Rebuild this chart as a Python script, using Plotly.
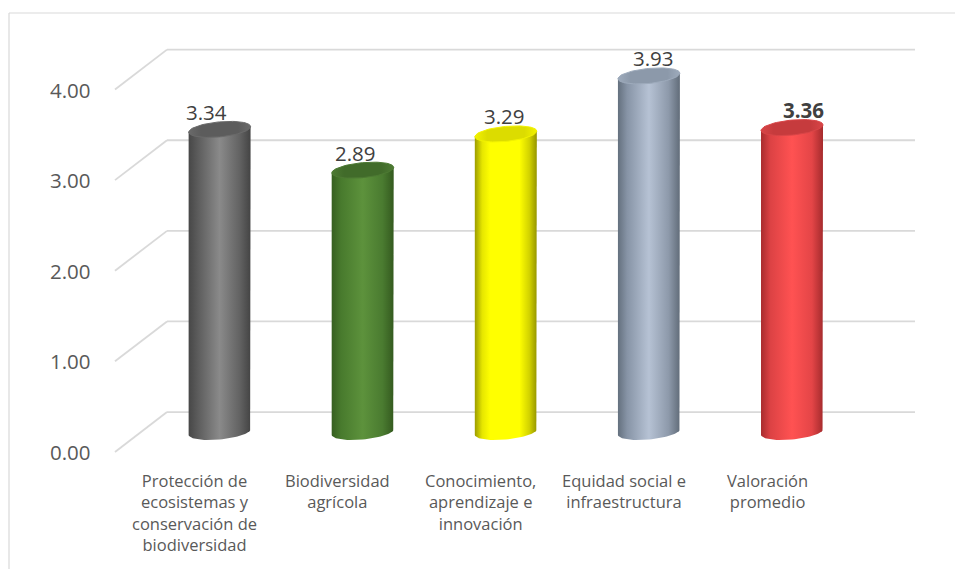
import numpy as np
import plotly.graph_objects as go

# ---------------- data ----------------
categories = [
    "Protección de<br>ecosistemas y<br>conservación de<br>biodiversidad",
    "Biodiversidad<br>agrícola",
    "Conocimiento,<br>aprendizaje e<br>innovación",
    "Equidad social e<br>infraestructura",
    "Valoración<br>promedio",
]
values = [3.34, 2.89, 3.29, 3.93, 3.36]
value_labels = ["3.34", "2.89", "3.29", "3.93", "3.36"]
tick_values = [0, 1, 2, 3, 4]
tick_labels = ["0.00", "1.00", "2.00", "3.00", "4.00"]

# ---------------- styles ----------------
W, H = 955, 569
X_RANGE = [-1.5346, 5.139]
Y_RANGE = [-1.512, 4.768]
PX_X = W / (X_RANGE[1] - X_RANGE[0])   # pixels per x unit
PX_Y = H / (Y_RANGE[1] - Y_RANGE[0])   # pixels per y unit

def xd(px):  # pixel column -> x data
    return X_RANGE[0] + px / PX_X

DEPTH = 0.22          # perspective offset of back/front walls (y units)
BACK_X0, BACK_X1, FRONT_X = xd(167), xd(915), xd(115)
GRID_COLOR = "#d9d9d9"

BAR_A = 31.0          # half width of cylinder (px)
BAR_B = 7.5           # ellipse half height (px)
SHEAR = 0.09          # ellipse tilt

body_scales = [
    [[0, "#474747"], [0.15, "#5c5c5c"], [0.5, "#8a8a8a"], [0.82, "#636363"], [1, "#444444"]],
    [[0, "#365f20"], [0.15, "#487a2d"], [0.5, "#5d923c"], [0.82, "#4a7b30"], [1, "#345a1f"]],
    [[0, "#9c9c00"], [0.12, "#e6e600"], [0.25, "#ffff00"], [0.72, "#ffff00"], [0.88, "#d2d200"], [1, "#959500"]],
    [[0, "#64707e"], [0.15, "#8794a6"], [0.5, "#b6c2d4"], [0.82, "#8d99aa"], [1, "#616c79"]],
    [[0, "#a82c2e"], [0.15, "#dc4244"], [0.5, "#ff5252"], [0.82, "#e44547"], [1, "#a52b2d"]],
]
top_colors = ["#5c5c5c", "#416b2a", "#dcdc00", "#8c99aa", "#c63b3d"]
top_rims = ["#6a6a6a", "#4d7a33", "#f2f200", "#9eabbc", "#d84547"]

FONT = "Open Sans"
fig = go.Figure()

t_full = np.linspace(0, 2 * np.pi, 73)
t_low = np.linspace(0, -np.pi, 37)

for i, (v, cs, tc, rim) in enumerate(zip(values, body_scales, top_colors, top_rims)):
    cx = i
    ax = BAR_A / PX_X
    by = BAR_B / PX_Y
    sh = SHEAR * BAR_A / PX_Y
    # body
    bx = [cx - ax, cx - ax, cx + ax, cx + ax] + list(cx + ax * np.cos(t_low))
    byy = [-sh, v - sh, v + sh, sh] + list(by * np.sin(t_low) + sh * np.cos(t_low))
    fig.add_trace(go.Scatter(
        x=bx, y=byy, mode="lines", fill="toself", line=dict(width=0),
        fillgradient=dict(type="horizontal", colorscale=cs),
        hoverinfo="skip", showlegend=False))
    # top ellipse
    ex = cx + ax * np.cos(t_full)
    ey = v + by * np.sin(t_full) + sh * np.cos(t_full)
    fig.add_trace(go.Scatter(
        x=ex, y=ey, mode="lines", fill="toself", line=dict(width=1, color=rim),
        fillgradient=dict(type="horizontal",
                          colorscale=[[0, rim], [0.2, tc], [0.8, tc], [1, rim]]),
        hoverinfo="skip", showlegend=False))

shapes = []
for tv in tick_values:
    shapes.append(dict(type="line", xref="x", yref="y", x0=FRONT_X, y0=tv - DEPTH,
                       x1=BACK_X0, y1=tv + DEPTH, layer="below",
                       line=dict(color=GRID_COLOR, width=1.8)))
    shapes.append(dict(type="line", xref="x", yref="y", x0=BACK_X0, y0=tv + DEPTH,
                       x1=BACK_X1, y1=tv + DEPTH, layer="below",
                       line=dict(color=GRID_COLOR, width=1.8)))
# chart frame
shapes.append(dict(type="line", xref="paper", yref="paper", x0=9 / W, y0=1 - 13 / H,
                   x1=1.0, y1=1 - 13 / H, line=dict(color="#d9d9d9", width=1.2)))
shapes.append(dict(type="line", xref="paper", yref="paper", x0=9 / W, y0=1 - 13 / H,
                   x1=9 / W, y1=0, line=dict(color="#d9d9d9", width=1.2)))

annotations = []
for tv, tl in zip(tick_values, tick_labels):
    annotations.append(dict(x=xd(93), y=tv - DEPTH, xref="x", yref="y", text=tl,
                            showarrow=False, xanchor="right", yanchor="middle",
                            font=dict(family=FONT, size=20.5, color="#595959")))
for i, (v, lab) in enumerate(zip(values, value_labels)):
    bold = i == len(values) - 1
    annotations.append(dict(x=i, y=v, xref="x", yref="y",
                            text=f"<b>{lab}</b>" if bold else lab,
                            showarrow=False, xanchor="center", yanchor="middle",
                            xshift=(i - 2) * 6 - 1, yshift=17.5,
                            font=dict(family=FONT, size=20.5, color="#404040")))
for i, c in enumerate(categories):
    annotations.append(dict(x=i, y=-35 / PX_Y, xref="x", yref="y", text=c,
                            showarrow=False, xanchor="center", yanchor="top",
                            xshift=-25, align="center",
                            font=dict(family=FONT, size=16.5, color="#595959")))

fig.update_layout(
    width=W, height=H, margin=dict(l=0, r=0, t=0, b=0),
    paper_bgcolor="white", plot_bgcolor="white",
    xaxis=dict(range=X_RANGE, visible=False, fixedrange=True),
    yaxis=dict(range=Y_RANGE, visible=False, fixedrange=True),
    shapes=shapes, annotations=annotations, showlegend=False,
)
fig.write_html("out.html")
